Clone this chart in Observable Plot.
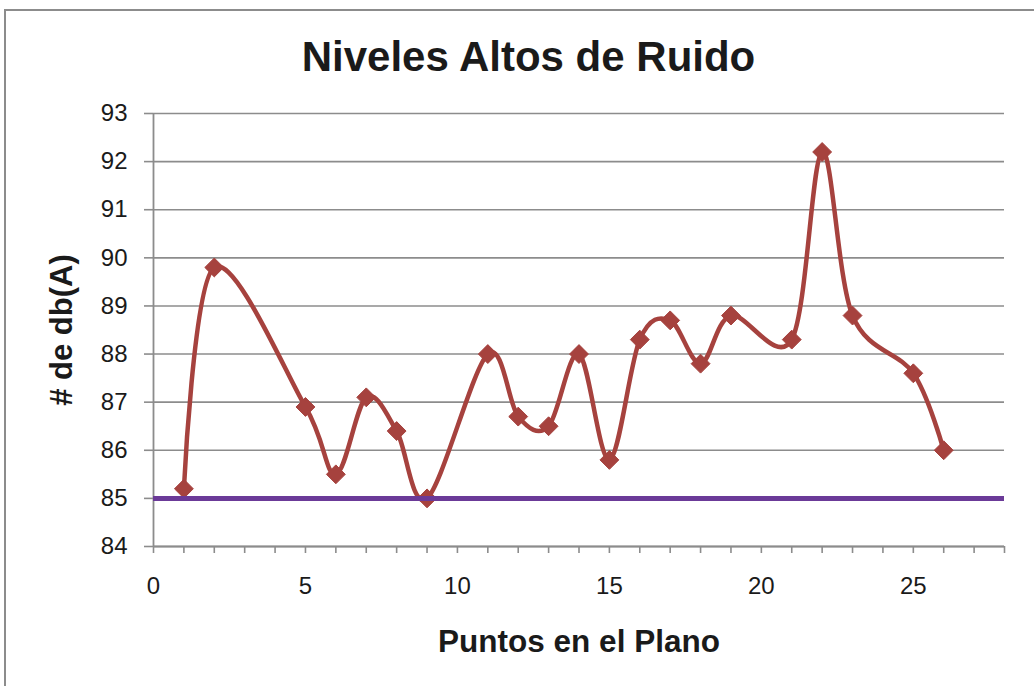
<!DOCTYPE html>
<html>
<head>
<meta charset="utf-8">
<script src="https://cdn.jsdelivr.net/npm/d3@7"></script>
<script src="https://cdn.jsdelivr.net/npm/@observablehq/plot@0.6"></script>
<style>
  html, body { margin: 0; padding: 0; background: #ffffff; overflow: hidden; }
  #wrap { position: relative; width: 1034px; height: 686px; overflow: hidden; background: #fff; }
  #border { position: absolute; left: 4px; top: 9px; width: 2000px; height: 2000px; border: 2px solid #8c8c8c; box-sizing: border-box; }
  #title { position: absolute; left: 0; top: 36px; width: 1057px; text-align: center;
           font-family: "Liberation Sans", Arial, sans-serif; font-weight: bold; font-size: 42px; line-height: 42px; color: #1a1a1a; }
  #chart { position: absolute; left: 0; top: 100px; }
</style>
</head>
<body>
<div id="wrap">
  <div id="border"></div>
  <div id="title">Niveles Altos de Ruido</div>
  <div id="chart"></div>
</div>
<script>
// Data
const puntos = [1, 2, 5, 6, 7, 8, 9, 11, 12, 13, 14, 15, 16, 17, 18, 19, 21, 22, 23, 25, 26];
const dbA    = [85.2, 89.8, 86.9, 85.5, 87.1, 86.4, 85.0, 88.0, 86.7, 86.5, 88.0, 85.8, 88.3, 88.7, 87.8, 88.8, 88.3, 92.2, 88.8, 87.6, 86.0];
const limite = 85;
const yTicks = [84, 85, 86, 87, 88, 89, 90, 91, 92, 93];
const xLabelTicks = [0, 5, 10, 15, 20, 25];
const xMinorTicks = [0, 1, 2, 3, 4, 5, 6, 7, 8, 9, 10, 11, 12, 13, 14, 15, 16, 17, 18, 19, 20, 21, 22, 23, 24, 25, 26, 27, 28];
const xTitle = "Puntos en el Plano";
const yTitle = "# de db(A)";

const rows = puntos.map((p, i) => ({x: p, y: dbA[i]}));

const gray = "#8c8c8c";
const red = "#a6423e";
const purple = "#6b3a98";

const chart = Plot.plot({
  width: 1034,
  height: 586,
  marginTop: 13,
  marginBottom: 140,
  marginLeft: 153,
  marginRight: 30,
  x: {domain: [0, 28]},
  y: {domain: [84, 93]},
  style: {fontFamily: "'Liberation Sans', Arial, sans-serif", color: "#1a1a1a", background: "transparent", overflow: "visible"},
  marks: [
    Plot.gridY(yTicks, {stroke: gray, strokeOpacity: 1, strokeWidth: 1.6}),
    Plot.axisY(yTicks, {tickSize: 9, tickPadding: 17, fontSize: 24, stroke: gray, strokeWidth: 1.6, fill: "#1a1a1a", label: null}),
    Plot.ruleX([0], {stroke: gray, strokeWidth: 1.8}),
    Plot.ruleY([84], {stroke: gray, strokeWidth: 1.8}),
    Plot.axisX(xMinorTicks, {tickSize: 7, tickFormat: () => "", stroke: gray, strokeWidth: 1.6, label: null}),
    Plot.axisX(xLabelTicks, {tickSize: 0, tickPadding: 30, fontSize: 24, fill: "#1a1a1a", label: null}),
    Plot.line(rows, {x: "x", y: "y", curve: "cardinal", stroke: red, strokeWidth: 4.5}),
    Plot.dot(rows, {x: "x", y: "y", symbol: "diamond2", r: 8.5, fill: red, stroke: red, strokeWidth: 1}),
    Plot.ruleY([limite], {stroke: purple, strokeWidth: 5}),
    Plot.text([xTitle], {text: d => d, frameAnchor: "bottom", lineAnchor: "bottom", textAnchor: "middle", dy: 105, fontSize: 31.5, fontWeight: "bold", fill: "#1a1a1a"}),
    Plot.text([yTitle], {text: d => d, frameAnchor: "left", lineAnchor: "middle", textAnchor: "middle", dx: -91, rotate: -90, fontSize: 31, fontWeight: "bold", fill: "#1a1a1a"})
  ]
});
document.getElementById("chart").appendChild(chart);
</script>
</body>
</html>
